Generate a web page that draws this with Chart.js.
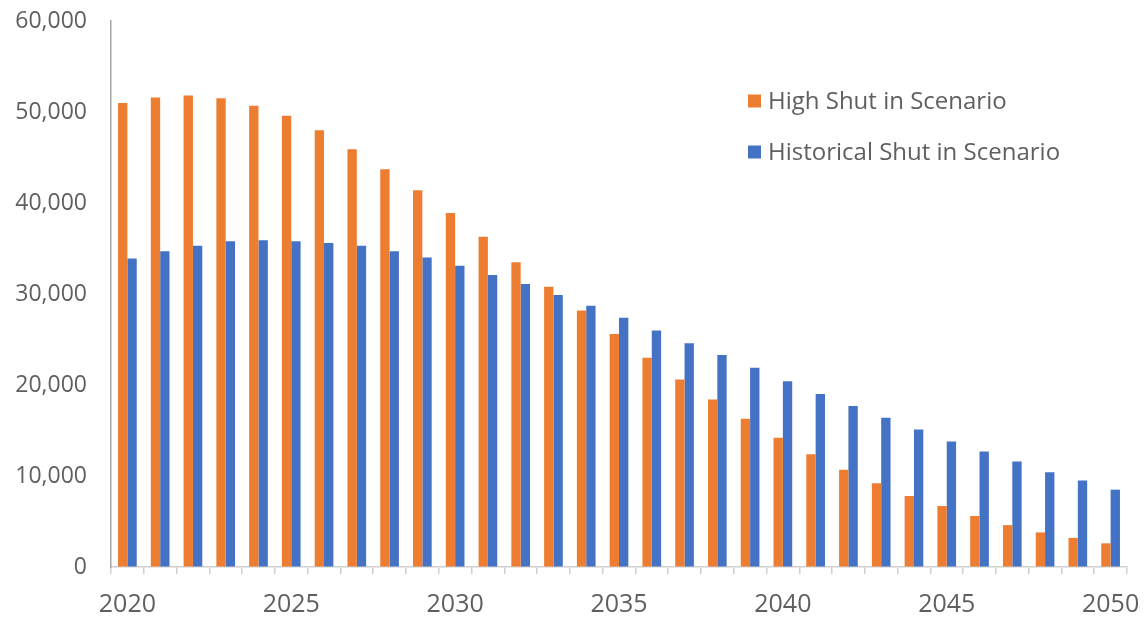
<!DOCTYPE html>
<html>
<head>
<meta charset="utf-8">
<script src="https://cdn.jsdelivr.net/npm/chart.js@4.4.1/dist/chart.umd.min.js"></script>
<style>
  html, body { margin: 0; padding: 0; background: #ffffff; }
  #wrap { width: 1144px; height: 620px; position: relative; }
</style>
</head>
<body>
<div id="wrap"><canvas id="chart" width="1144" height="620"></canvas></div>
<script>
// Years on the category axis
const years = [2020,2021,2022,2023,2024,2025,2026,2027,2028,2029,2030,
               2031,2032,2033,2034,2035,2036,2037,2038,2039,2040,
               2041,2042,2043,2044,2045,2046,2047,2048,2049,2050];

// Series values
const highShutIn = [51000,51600,51800,51500,50700,49600,48000,45900,43700,41400,38900,
                    36300,33500,30800,28200,25600,23000,20600,18400,16300,14200,
                    12400,10700,9200,7800,6700,5600,4600,3800,3200,2600];
const historicalShutIn = [33900,34700,35300,35800,35900,35800,35600,35300,34700,34000,33100,
                          32100,31100,29900,28700,27400,26000,24600,23300,21900,20400,
                          19000,17700,16400,15100,13800,12700,11600,10400,9500,8500];

// Series names and axis settings
const seriesNames = ['High Shut in Scenario', 'Historical Shut in Scenario'];
const yTicks = [0, 10000, 20000, 30000, 40000, 50000, 60000];
const labelEvery = 5;

const ORANGE = '#ED7D31';
const BLUE = '#4472C4';
const TEXT = '#5f5f5f';
const FONT = "'Open Sans', 'Noto Sans', sans-serif";

// Legend drawn inside the plot area, upper right
const insideLegend = {
  id: 'insideLegend',
  afterDraw(chart) {
    const ctx = chart.ctx;
    ctx.save();
    ctx.font = `24px ${FONT}`;
    ctx.textBaseline = 'middle';
    ctx.textAlign = 'left';
    const x0 = 748, yStart = 101, gap = 51, box = 13;
    chart.data.datasets.forEach((ds, i) => {
      const y = yStart + i * gap;
      ctx.fillStyle = ds.backgroundColor;
      ctx.fillRect(x0, y - box / 2, box, box);
      ctx.fillStyle = TEXT;
      ctx.fillText(ds.label, x0 + 20, y + 1);
    });
    ctx.restore();
  }
};

new Chart(document.getElementById('chart'), {
  type: 'bar',
  data: {
    labels: years.map(String),
    datasets: [
      { label: seriesNames[0], data: highShutIn, backgroundColor: ORANGE,
        categoryPercentage: 0.57, barPercentage: 1.0 },
      { label: seriesNames[1], data: historicalShutIn, backgroundColor: BLUE,
        categoryPercentage: 0.57, barPercentage: 1.0 }
    ]
  },
  options: {
    responsive: false,
    animation: false,
    layout: { padding: { top: 21, right: 17, left: 0, bottom: 0 } },
    plugins: {
      legend: { display: false },
      tooltip: { enabled: false }
    },
    scales: {
      x: {
        offset: true,
        grid: {
          offset: true,
          drawOnChartArea: false,
          drawTicks: true,
          tickLength: 7,
          color: '#d0d0d0',
          lineWidth: 1.5
        },
        border: { display: true, color: '#d0d0d0', width: 1.5 },
        ticks: {
          autoSkip: false,
          maxRotation: 0,
          minRotation: 0,
          padding: 16,
          color: TEXT,
          font: { family: FONT, size: 25 },
          callback: function (value, index) {
            const y = years[index];
            return (y % labelEvery === 0) ? String(y) : '';
          }
        },
        afterFit(scale) {
          scale.height = 53;
          scale.paddingLeft = 0;
          scale.paddingRight = 0;
        }
      },
      y: {
        min: yTicks[0],
        max: yTicks[yTicks.length - 1],
        afterBuildTicks(scale) { scale.ticks = yTicks.map(v => ({ value: v })); },
        grid: { display: true, drawOnChartArea: false, drawTicks: false },
        border: { display: true, color: '#a6a6a6', width: 1.5 },
        ticks: {
          padding: 24,
          color: TEXT,
          font: { family: FONT, size: 23 },
          callback: v => v.toLocaleString('en-US')
        },
        afterFit(scale) {
          scale.width = 111;
          scale.paddingTop = 0;
          scale.paddingBottom = 0;
        }
      }
    }
  },
  plugins: [insideLegend]
});
</script>
</body>
</html>
